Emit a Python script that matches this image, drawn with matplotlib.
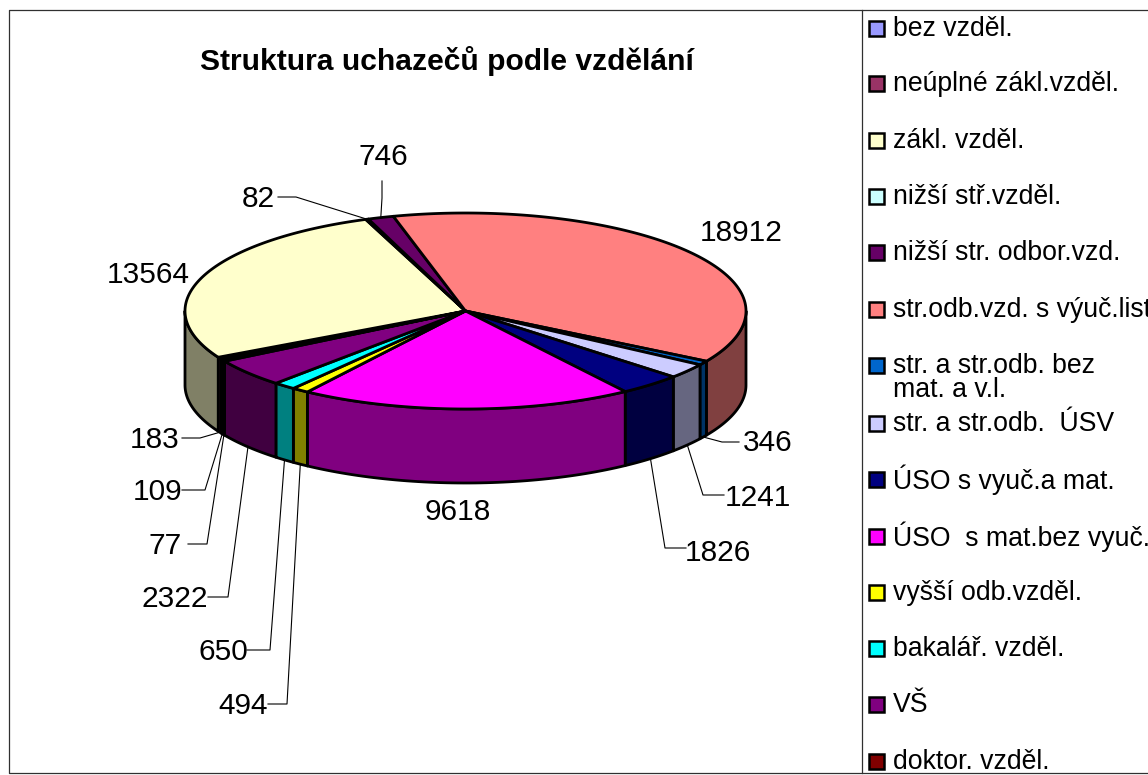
#!/bin/python3

import numpy as np
import matplotlib
matplotlib.use('Agg')
import matplotlib.pyplot as plt
from matplotlib.patches import Polygon, Rectangle

plt.rcParams['font.family'] = ['Liberation Sans', 'DejaVu Sans']

title = 'Struktura uchazečů podle vzdělání'

# legend order
categories = ['bez vzděl.', 'neúplné zákl.vzděl.', 'zákl. vzděl.', 'nižší stř.vzděl.',
              'nižší str. odbor.vzd.', 'str.odb.vzd. s výuč.list',
              'str. a str.odb. bez\nmat. a v.l.', 'str. a str.odb.  ÚSV',
              'ÚSO s vyuč.a mat.', 'ÚSO  s mat.bez vyuč.', 'vyšší odb.vzděl.',
              'bakalář. vzděl.', 'VŠ', 'doktor. vzděl.']
values = [109, 183, 13564, 82, 746, 18912, 346, 1241, 1826, 9618, 494, 650, 2322, 77]
colors = ['#9999FF', '#993366', '#FFFFCC', '#CCFFFF', '#660066', '#FF8080', '#0066CC',
          '#CCCCFF', '#000080', '#FF00FF', '#FFFF00', '#00FFFF', '#800080', '#800000']
legend_y = [29, 84, 141, 197, 253, 310, 366, 424, 480, 537, 593, 649, 705, 762]

# pie geometry in pixels
CX, CY, RX, RY, DEPTH = 465.5, 311, 280.5, 98, 74
START_OF_LARGEST = -14.9  # where the 18912 slice begins, clockwise from the top

# value label: centre, then leader points (None = no leader)
label_layout = {
    109: ((158, 490), [(182, 490), (205, 490)]),
    183: ((155, 438), [(182, 438), (200, 438)]),
    13564: ((148, 273), None),
    82: ((258, 197), [(278, 197), (296, 197)]),
    746: ((383, 155), [(382, 181), (382, 198)]),
    18912: ((741, 231), None),
    346: ((768, 441), [(739, 442), (722, 442)]),
    1241: ((758, 496), [(724, 495), (703, 495)]),
    1826: ((718, 551), [(686, 548), (665, 548)]),
    9618: ((458, 510), None),
    494: ((243, 704), [(268, 704), (287, 704)]),
    650: ((223, 650), [(247, 650), (270, 650)]),
    2322: ((175, 597), [(208, 597), (228, 597)]),
    77: ((165, 544), [(188, 544), (207, 544)]),
}


def ell(theta, dy=0):
    t = np.radians(theta)
    return np.column_stack([CX + RX * np.sin(t), CY - RY * np.cos(t) + dy])


def darker(c):
    r = matplotlib.colors.to_rgb(c)
    return tuple(v * 0.5 for v in r)


fig = plt.figure(figsize=(11.48, 7.75), dpi=100)
ax = fig.add_axes([0, 0, 1, 1])
ax.set_xlim(0, 1148)
ax.set_ylim(775, 0)
ax.axis('off')

LW = 2.0
total = sum(values)
first_angle = START_OF_LARGEST - 360 * sum(values[:5]) / total
angles = first_angle + np.concatenate([[0], np.cumsum(values)]) * 360 / total

# side walls, only the front half of the disc
for i, c in enumerate(colors):
    for shift in (0, 360):
        a0 = max(angles[i] + shift, 90)
        a1 = min(angles[i + 1] + shift, 270)
        if a1 <= a0:
            continue
        th = np.linspace(a0, a1, 60)
        pts = np.vstack([ell(th), ell(th[::-1], DEPTH)])
        ax.add_patch(Polygon(pts, closed=True, fc=darker(c), ec='black', lw=LW, joinstyle='round', zorder=2))

# top faces
for i, c in enumerate(colors):
    th = np.linspace(angles[i], angles[i + 1], 200)
    pts = np.vstack([[[CX, CY]], ell(th)])
    ax.add_patch(Polygon(pts, closed=True, fc=c, ec='black', lw=LW, joinstyle='round', zorder=3))

# value labels and leaders
for i, v in enumerate(values):
    pos, leader = label_layout[v]
    ax.text(pos[0], pos[1] + 2, str(v), fontsize=21.5, ha='center', va='center', color='black', zorder=5)
    if leader is not None:
        mid = (angles[i] + angles[i + 1]) / 2
        front = 90 < (mid % 360) < 270
        end = ell(mid, DEPTH if front else 0)[0]
        xs = [p[0] for p in leader] + [end[0]]
        ys = [p[1] for p in leader] + [end[1]]
        ax.plot(xs, ys, color='black', lw=0.8, zorder=4)

ax.text(447, 61, title, fontsize=21.6, fontweight='bold', ha='center', va='center')

# frame of the chart and legend
ax.plot([1148, 9, 9, 1148], [10, 10, 773, 773], color='#303030', lw=0.9, zorder=6)
ax.plot([862, 862], [10, 773], color='#303030', lw=0.9, zorder=6)

for name, c, y in zip(categories, colors, legend_y):
    ax.add_patch(Rectangle((869, y - 8), 15, 15, fc=c, ec='black', lw=1.8, zorder=5))
    if '\n' in name:
        for k, part in enumerate(name.split('\n')):
            ax.text(893, y + k * 24, part, fontsize=19.2, ha='left', va='center', zorder=5)
    else:
        ax.text(893, y, name, fontsize=19.2, ha='left', va='center', zorder=5)

fig.savefig('out.png', dpi=100)
